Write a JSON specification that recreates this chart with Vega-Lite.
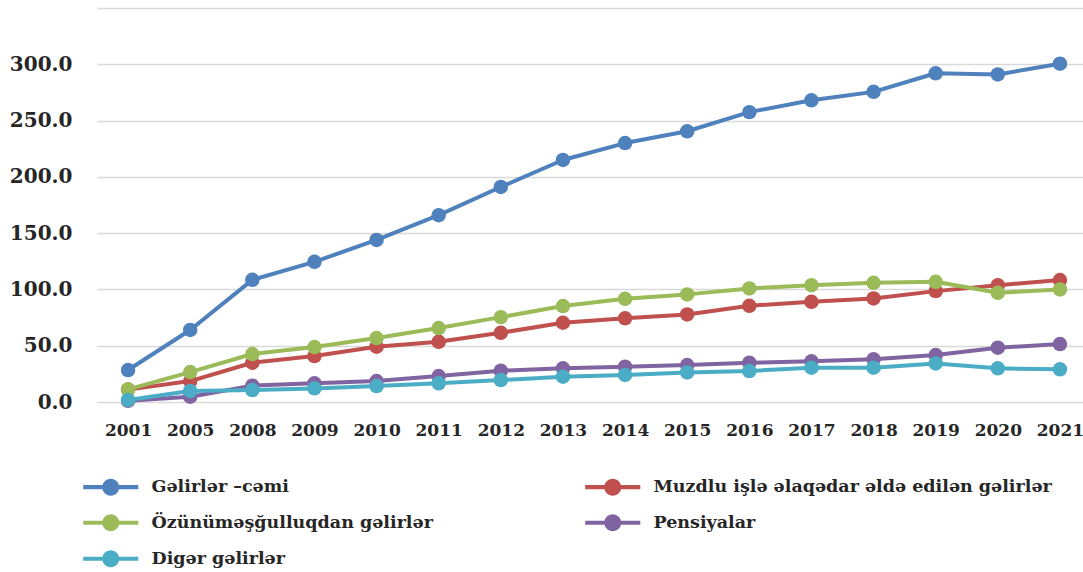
{
  "$schema": "https://vega.github.io/schema/vega-lite/v6.json",
  "width": 994,
  "height": 394,
  "autosize": "none",
  "padding": {"left": 97, "top": 8, "right": -8, "bottom": 170},
  "background": "white",
  "config": {
    "view": {"stroke": null},
    "font": "DejaVu Serif"
  },
  "data": {
    "values": [
      {"il": "2001", "seriya": "Gəlirlər –cəmi", "dəyər": 28.4},
      {"il": "2005", "seriya": "Gəlirlər –cəmi", "dəyər": 64.0},
      {"il": "2008", "seriya": "Gəlirlər –cəmi", "dəyər": 108.5},
      {"il": "2009", "seriya": "Gəlirlər –cəmi", "dəyər": 124.5},
      {"il": "2010", "seriya": "Gəlirlər –cəmi", "dəyər": 144.0},
      {"il": "2011", "seriya": "Gəlirlər –cəmi", "dəyər": 166.0},
      {"il": "2012", "seriya": "Gəlirlər –cəmi", "dəyər": 191.0},
      {"il": "2013", "seriya": "Gəlirlər –cəmi", "dəyər": 215.0},
      {"il": "2014", "seriya": "Gəlirlər –cəmi", "dəyər": 230.0},
      {"il": "2015", "seriya": "Gəlirlər –cəmi", "dəyər": 240.5},
      {"il": "2016", "seriya": "Gəlirlər –cəmi", "dəyər": 257.5},
      {"il": "2017", "seriya": "Gəlirlər –cəmi", "dəyər": 268.0},
      {"il": "2018", "seriya": "Gəlirlər –cəmi", "dəyər": 275.5},
      {"il": "2019", "seriya": "Gəlirlər –cəmi", "dəyər": 292.0},
      {"il": "2020", "seriya": "Gəlirlər –cəmi", "dəyər": 291.0},
      {"il": "2021", "seriya": "Gəlirlər –cəmi", "dəyər": 300.5},
      {"il": "2001", "seriya": "Muzdlu işlə əlaqədar əldə edilən gəlirlər", "dəyər": 11.0},
      {"il": "2005", "seriya": "Muzdlu işlə əlaqədar əldə edilən gəlirlər", "dəyər": 18.6},
      {"il": "2008", "seriya": "Muzdlu işlə əlaqədar əldə edilən gəlirlər", "dəyər": 34.9},
      {"il": "2009", "seriya": "Muzdlu işlə əlaqədar əldə edilən gəlirlər", "dəyər": 40.8},
      {"il": "2010", "seriya": "Muzdlu işlə əlaqədar əldə edilən gəlirlər", "dəyər": 49.1},
      {"il": "2011", "seriya": "Muzdlu işlə əlaqədar əldə edilən gəlirlər", "dəyər": 53.5},
      {"il": "2012", "seriya": "Muzdlu işlə əlaqədar əldə edilən gəlirlər", "dəyər": 61.5},
      {"il": "2013", "seriya": "Muzdlu işlə əlaqədar əldə edilən gəlirlər", "dəyər": 70.4},
      {"il": "2014", "seriya": "Muzdlu işlə əlaqədar əldə edilən gəlirlər", "dəyər": 74.3},
      {"il": "2015", "seriya": "Muzdlu işlə əlaqədar əldə edilən gəlirlər", "dəyər": 77.8},
      {"il": "2016", "seriya": "Muzdlu işlə əlaqədar əldə edilən gəlirlər", "dəyər": 85.5},
      {"il": "2017", "seriya": "Muzdlu işlə əlaqədar əldə edilən gəlirlər", "dəyər": 89.0},
      {"il": "2018", "seriya": "Muzdlu işlə əlaqədar əldə edilən gəlirlər", "dəyər": 92.0},
      {"il": "2019", "seriya": "Muzdlu işlə əlaqədar əldə edilən gəlirlər", "dəyər": 98.5},
      {"il": "2020", "seriya": "Muzdlu işlə əlaqədar əldə edilən gəlirlər", "dəyər": 103.8},
      {"il": "2021", "seriya": "Muzdlu işlə əlaqədar əldə edilən gəlirlər", "dəyər": 108.3},
      {"il": "2001", "seriya": "Özünüməşğulluqdan gəlirlər", "dəyər": 11.2},
      {"il": "2005", "seriya": "Özünüməşğulluqdan gəlirlər", "dəyər": 26.6},
      {"il": "2008", "seriya": "Özünüməşğulluqdan gəlirlər", "dəyər": 42.6},
      {"il": "2009", "seriya": "Özünüməşğulluqdan gəlirlər", "dəyər": 48.8},
      {"il": "2010", "seriya": "Özünüməşğulluqdan gəlirlər", "dəyər": 56.8},
      {"il": "2011", "seriya": "Özünüməşğulluqdan gəlirlər", "dəyər": 65.7},
      {"il": "2012", "seriya": "Özünüməşğulluqdan gəlirlər", "dəyər": 75.4},
      {"il": "2013", "seriya": "Özünüməşğulluqdan gəlirlər", "dəyər": 85.2},
      {"il": "2014", "seriya": "Özünüməşğulluqdan gəlirlər", "dəyər": 91.7},
      {"il": "2015", "seriya": "Özünüməşğulluqdan gəlirlər", "dəyər": 95.6},
      {"il": "2016", "seriya": "Özünüməşğulluqdan gəlirlər", "dəyər": 100.9},
      {"il": "2017", "seriya": "Özünüməşğulluqdan gəlirlər", "dəyər": 103.8},
      {"il": "2018", "seriya": "Özünüməşğulluqdan gəlirlər", "dəyər": 105.9},
      {"il": "2019", "seriya": "Özünüməşğulluqdan gəlirlər", "dəyər": 106.8},
      {"il": "2020", "seriya": "Özünüməşğulluqdan gəlirlər", "dəyər": 97.0},
      {"il": "2021", "seriya": "Özünüməşğulluqdan gəlirlər", "dəyər": 100.0},
      {"il": "2001", "seriya": "Pensiyalar", "dəyər": 1.0},
      {"il": "2005", "seriya": "Pensiyalar", "dəyər": 4.7},
      {"il": "2008", "seriya": "Pensiyalar", "dəyər": 14.5},
      {"il": "2009", "seriya": "Pensiyalar", "dəyər": 16.6},
      {"il": "2010", "seriya": "Pensiyalar", "dəyər": 18.6},
      {"il": "2011", "seriya": "Pensiyalar", "dəyər": 23.0},
      {"il": "2012", "seriya": "Pensiyalar", "dəyər": 27.8},
      {"il": "2013", "seriya": "Pensiyalar", "dəyər": 29.9},
      {"il": "2014", "seriya": "Pensiyalar", "dəyər": 31.4},
      {"il": "2015", "seriya": "Pensiyalar", "dəyər": 32.8},
      {"il": "2016", "seriya": "Pensiyalar", "dəyər": 34.9},
      {"il": "2017", "seriya": "Pensiyalar", "dəyər": 36.1},
      {"il": "2018", "seriya": "Pensiyalar", "dəyər": 37.9},
      {"il": "2019", "seriya": "Pensiyalar", "dəyər": 41.7},
      {"il": "2020", "seriya": "Pensiyalar", "dəyər": 48.2},
      {"il": "2021", "seriya": "Pensiyalar", "dəyər": 51.5},
      {"il": "2001", "seriya": "Digər gəlirlər", "dəyər": 1.8},
      {"il": "2005", "seriya": "Digər gəlirlər", "dəyər": 9.8},
      {"il": "2008", "seriya": "Digər gəlirlər", "dəyər": 10.6},
      {"il": "2009", "seriya": "Digər gəlirlər", "dəyər": 12.1},
      {"il": "2010", "seriya": "Digər gəlirlər", "dəyər": 14.2},
      {"il": "2011", "seriya": "Digər gəlirlər", "dəyər": 16.6},
      {"il": "2012", "seriya": "Digər gəlirlər", "dəyər": 19.5},
      {"il": "2013", "seriya": "Digər gəlirlər", "dəyər": 22.5},
      {"il": "2014", "seriya": "Digər gəlirlər", "dəyər": 24.0},
      {"il": "2015", "seriya": "Digər gəlirlər", "dəyər": 26.3},
      {"il": "2016", "seriya": "Digər gəlirlər", "dəyər": 27.5},
      {"il": "2017", "seriya": "Digər gəlirlər", "dəyər": 30.5},
      {"il": "2018", "seriya": "Digər gəlirlər", "dəyər": 30.5},
      {"il": "2019", "seriya": "Digər gəlirlər", "dəyər": 34.3},
      {"il": "2020", "seriya": "Digər gəlirlər", "dəyər": 29.9},
      {"il": "2021", "seriya": "Digər gəlirlər", "dəyər": 29.0}
    ]
  },
  "encoding": {
    "x": {
      "field": "il",
      "type": "ordinal",
      "scale": {"type": "point", "padding": 0.5},
      "axis": {
        "title": null,
        "labelAngle": 0,
        "domain": false,
        "ticks": false,
        "tickSize": 0,
        "grid": false,
        "labelFont": "DejaVu Serif",
        "labelFontWeight": "bold",
        "labelFontSize": 17,
        "labelColor": "#262626",
        "labelPadding": 20
      }
    },
    "y": {
      "field": "dəyər",
      "type": "quantitative",
      "scale": {"domain": [0, 350], "nice": false},
      "axis": {
        "title": null,
        "values": [0, 50, 100, 150, 200, 250, 300, 350],
        "labelExpr": "datum.value == 350 ? '' : format(datum.value, '.1f')",
        "domain": false,
        "ticks": false,
        "tickSize": 0,
        "grid": true,
        "gridColor": "#D9D9D9",
        "gridWidth": 1.5,
        "labelFont": "DejaVu Serif",
        "labelFontWeight": "bold",
        "labelFontSize": 20,
        "labelColor": "#262626",
        "labelPadding": 25
      }
    },
    "color": {
      "field": "seriya",
      "type": "nominal",
      "scale": {
        "domain": ["Gəlirlər –cəmi", "Özünüməşğulluqdan gəlirlər", "Digər gəlirlər", "Muzdlu işlə əlaqədar əldə edilən gəlirlər", "Pensiyalar"],
        "range": ["#4F81BD", "#9BBB59", "#4BACC6", "#C0504D", "#8064A2"]
      },
      "legend": {
        "title": null,
        "orient": "none",
        "legendX": 5,
        "legendY": 470,
        "direction": "vertical",
        "columns": 2,
        "gridAlign": "all",
        "columnPadding": 35,
        "rowPadding": 17,
        "padding": 0,
        "symbolType": "M-3.24,-0.24H3.24V0.24H-3.24Z M-1,0A1,1 0 1,1 1,0A1,1 0 1,1 -1,0Z",
        "symbolSize": 289,
        "symbolStrokeWidth": 0,
        "labelOffset": 32,
        "labelFont": "DejaVu Serif",
        "labelFontWeight": "bold",
        "labelFontSize": 17.5,
        "labelColor": "#262626",
        "labelLimit": 600,
        "encode": {
          "symbols": {
            "update": {
              "fill": {"scale": "color", "field": "value"},
              "stroke": {"value": "transparent"},
              "strokeWidth": {"value": 0},
              "opacity": {"value": 1}
            }
          }
        }
      }
    }
  },
  "layer": [
    {
      "mark": {"type": "line", "strokeWidth": 4, "strokeCap": "round", "strokeJoin": "round"}
    },
    {
      "mark": {"type": "point", "filled": true, "size": 210, "opacity": 1}
    }
  ]
}
